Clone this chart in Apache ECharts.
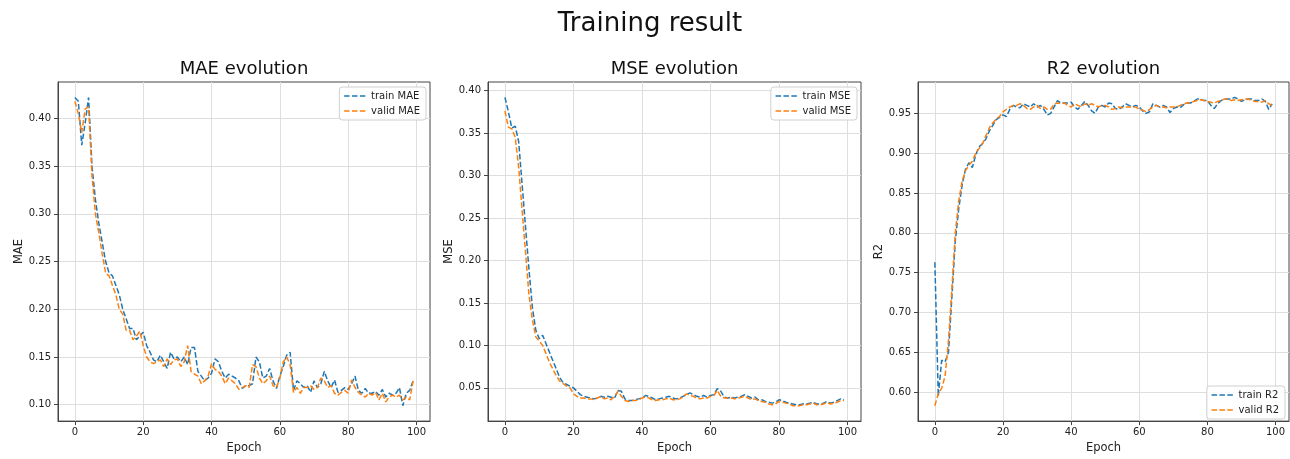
<!DOCTYPE html>
<html>
<head>
<meta charset="utf-8">
<title>Training result</title>
<script src="https://cdn.jsdelivr.net/npm/echarts@6/dist/echarts.min.js"></script>
<style>
  html, body { margin: 0; padding: 0; background: #ffffff; }
  #chart { width: 1290px; height: 459px; }
</style>
</head>
<body>
<div id="chart"></div>
<script>
// Per-epoch metrics (epochs 0..99)
const trainMAE = [
  0.422, 0.418, 0.372, 0.395, 0.422, 0.350, 0.315, 0.290, 0.270, 0.250,
  0.238, 0.235, 0.225, 0.215, 0.200, 0.190, 0.180, 0.180, 0.168, 0.172,
  0.176, 0.162, 0.155, 0.147, 0.145, 0.152, 0.145, 0.138, 0.155, 0.148,
  0.150, 0.145, 0.150, 0.142, 0.160, 0.160, 0.135, 0.130, 0.125, 0.128,
  0.133, 0.148, 0.145, 0.135, 0.128, 0.132, 0.130, 0.128, 0.125, 0.117,
  0.120, 0.120, 0.122, 0.150, 0.145, 0.128, 0.130, 0.138, 0.125, 0.117,
  0.130, 0.140, 0.152, 0.155, 0.115, 0.125, 0.122, 0.118, 0.120, 0.113,
  0.125, 0.118, 0.122, 0.135, 0.125, 0.118, 0.126, 0.113, 0.115, 0.118,
  0.116, 0.122, 0.130, 0.115, 0.112, 0.117, 0.112, 0.112, 0.114, 0.110,
  0.116, 0.108, 0.112, 0.110, 0.112, 0.118, 0.099, 0.112, 0.115, 0.125
];
const validMAE = [
  0.418, 0.405, 0.385, 0.410, 0.412, 0.340, 0.300, 0.280, 0.258, 0.238,
  0.235, 0.225, 0.215, 0.200, 0.195, 0.178, 0.178, 0.168, 0.172, 0.177,
  0.162, 0.150, 0.145, 0.143, 0.145, 0.147, 0.140, 0.148, 0.142, 0.147,
  0.148, 0.140, 0.145, 0.162, 0.135, 0.132, 0.130, 0.122, 0.125, 0.130,
  0.143, 0.137, 0.135, 0.130, 0.122, 0.128, 0.125, 0.122, 0.116, 0.118,
  0.120, 0.118, 0.142, 0.140, 0.128, 0.122, 0.125, 0.130, 0.120, 0.118,
  0.128, 0.145, 0.150, 0.142, 0.113, 0.118, 0.112, 0.118, 0.118, 0.120,
  0.116, 0.118, 0.128, 0.125, 0.118, 0.120, 0.112, 0.110, 0.113, 0.115,
  0.112, 0.126, 0.118, 0.113, 0.110, 0.108, 0.112, 0.110, 0.113, 0.105,
  0.112, 0.103, 0.108, 0.110, 0.108, 0.110, 0.105, 0.108, 0.105, 0.125
];
const trainMSE = [
  0.392, 0.375, 0.356, 0.358, 0.340, 0.290, 0.240, 0.190, 0.145, 0.118,
  0.108, 0.112, 0.102, 0.092, 0.082, 0.072, 0.062, 0.056, 0.054, 0.052,
  0.050, 0.046, 0.042, 0.040, 0.039, 0.038, 0.037, 0.038, 0.040, 0.039,
  0.040, 0.039, 0.038, 0.047, 0.046, 0.037, 0.035, 0.035, 0.036, 0.037,
  0.038, 0.041, 0.040, 0.038, 0.036, 0.037, 0.038, 0.039, 0.040, 0.038,
  0.037, 0.038, 0.040, 0.042, 0.044, 0.042, 0.040, 0.039, 0.041, 0.039,
  0.041, 0.042, 0.049, 0.046, 0.039, 0.038, 0.039, 0.038, 0.039, 0.040,
  0.042, 0.040, 0.038, 0.039, 0.036, 0.036, 0.034, 0.033, 0.032, 0.033,
  0.036, 0.035, 0.033, 0.032, 0.031, 0.030, 0.030, 0.031, 0.031, 0.032,
  0.033, 0.031, 0.031, 0.032, 0.034, 0.032, 0.033, 0.035, 0.037, 0.036
];
const validMSE = [
  0.376, 0.357, 0.355, 0.345, 0.310, 0.260, 0.210, 0.160, 0.130, 0.110,
  0.105, 0.100, 0.090, 0.080, 0.072, 0.064, 0.058, 0.055, 0.052, 0.050,
  0.043, 0.040, 0.038, 0.038, 0.037, 0.037, 0.036, 0.038, 0.040, 0.037,
  0.038, 0.036, 0.040, 0.046, 0.040, 0.035, 0.034, 0.035, 0.035, 0.036,
  0.038, 0.039, 0.038, 0.036, 0.035, 0.036, 0.036, 0.037, 0.038, 0.036,
  0.036, 0.037, 0.039, 0.043, 0.041, 0.040, 0.038, 0.037, 0.038, 0.038,
  0.040, 0.041, 0.047, 0.040, 0.038, 0.038, 0.038, 0.037, 0.038, 0.039,
  0.040, 0.038, 0.036, 0.037, 0.035, 0.034, 0.033, 0.031, 0.030, 0.031,
  0.034, 0.033, 0.032, 0.031, 0.029, 0.029, 0.029, 0.030, 0.030, 0.031,
  0.032, 0.030, 0.030, 0.031, 0.033, 0.031, 0.032, 0.033, 0.035, 0.035
];
const trainR2 = [
  0.763, 0.595, 0.640, 0.638, 0.650, 0.720, 0.790, 0.830, 0.860, 0.880,
  0.888, 0.882, 0.898, 0.908, 0.912, 0.918, 0.928, 0.935, 0.942, 0.945,
  0.948, 0.946, 0.955, 0.960, 0.958, 0.957, 0.962, 0.960, 0.958, 0.962,
  0.958, 0.960, 0.955, 0.948, 0.950, 0.958, 0.966, 0.963, 0.963, 0.963,
  0.964, 0.958, 0.955, 0.960, 0.965, 0.960, 0.953, 0.950, 0.958, 0.960,
  0.958, 0.963, 0.962, 0.956, 0.955, 0.958, 0.962, 0.960, 0.958, 0.960,
  0.958, 0.953, 0.950, 0.952, 0.962, 0.960, 0.958, 0.960, 0.958, 0.951,
  0.956, 0.958, 0.957, 0.961, 0.963, 0.963, 0.965, 0.968, 0.968, 0.966,
  0.966, 0.960, 0.956, 0.962, 0.966, 0.968, 0.968, 0.968, 0.970, 0.968,
  0.965, 0.967, 0.968, 0.968, 0.966, 0.966, 0.968, 0.965, 0.955, 0.962
];
const validR2 = [
  0.583, 0.598, 0.605, 0.620, 0.665, 0.730, 0.800, 0.840, 0.865, 0.878,
  0.885, 0.890, 0.900, 0.906, 0.912, 0.922, 0.932, 0.938, 0.943, 0.946,
  0.952, 0.955, 0.958, 0.960, 0.960, 0.962, 0.960, 0.956, 0.955, 0.958,
  0.960, 0.956, 0.958, 0.955, 0.955, 0.962, 0.963, 0.962, 0.963, 0.960,
  0.958, 0.962, 0.960, 0.958, 0.962, 0.960, 0.962, 0.960, 0.958, 0.960,
  0.960, 0.958, 0.955, 0.956, 0.958, 0.957, 0.958, 0.958, 0.958, 0.958,
  0.955, 0.954, 0.952, 0.955, 0.958, 0.960, 0.958, 0.958, 0.957, 0.958,
  0.958, 0.958, 0.960, 0.962, 0.963, 0.963, 0.965, 0.966, 0.967, 0.966,
  0.965, 0.964, 0.963, 0.965, 0.966, 0.968, 0.968, 0.966, 0.967, 0.966,
  0.967, 0.968, 0.968, 0.966, 0.965, 0.965, 0.964, 0.966, 0.962, 0.960
];

// Tick labels
const epochTicks = [0, 20, 40, 60, 80, 100];
const maeTicks = [0.10, 0.15, 0.20, 0.25, 0.30, 0.35, 0.40];
const mseTicks = [0.05, 0.10, 0.15, 0.20, 0.25, 0.30, 0.35, 0.40];
const r2Ticks = [0.60, 0.65, 0.70, 0.75, 0.80, 0.85, 0.90, 0.95];

const BLUE = '#1f77b4';
const ORANGE = '#ff7f0e';
const FONT = 'DejaVu Sans';
const DASH = [5.5, 2.4];

// Axis range with a 5% margin on each side of the data span
function padded(arrays) {
  let lo = Infinity, hi = -Infinity;
  arrays.forEach(a => a.forEach(v => { lo = Math.min(lo, v); hi = Math.max(hi, v); }));
  const m = (hi - lo) * 0.05;
  return [lo - m, hi + m];
}
const nEpochs = trainMAE.length;
const xRange = [-(nEpochs - 1) * 0.05, (nEpochs - 1) * 1.05];

const panels = [
  { title: 'MAE evolution', yName: 'MAE', ticks: maeTicks, train: trainMAE, valid: validMAE,
    names: ['train MAE', 'valid MAE'], left: 58, width: 372 },
  { title: 'MSE evolution', yName: 'MSE', ticks: mseTicks, train: trainMSE, valid: validMSE,
    names: ['train MSE', 'valid MSE'], left: 488, width: 373 },
  { title: 'R2 evolution', yName: 'R2', ticks: r2Ticks, train: trainR2, valid: validR2,
    names: ['train R2', 'valid R2'], left: 918, width: 371 }
];

const TOP = 82, HEIGHT = 342;
const grids = [], xAxes = [], yAxes = [], series = [], titles = [], legends = [];

titles.push({
  text: 'Training result', left: 650, top: 11, textAlign: 'center', padding: 0,
  textStyle: { fontFamily: FONT, fontSize: 26, fontWeight: 'normal', color: '#111' }
});

panels.forEach((p, i) => {
  grids.push({
    left: p.left, top: TOP, width: p.width, height: HEIGHT,
    show: true, borderColor: '#444', borderWidth: 1, backgroundColor: 'transparent'
  });
  titles.push({
    text: p.title, left: p.left + p.width / 2, top: 60, textAlign: 'center', padding: 0,
    textStyle: { fontFamily: FONT, fontSize: 18, fontWeight: 'normal', color: '#111' }
  });
  xAxes.push({
    type: 'value', gridIndex: i, min: xRange[0], max: xRange[1], splitNumber: 5,
    name: 'Epoch', nameLocation: 'middle', nameGap: 19,
    nameTextStyle: { fontFamily: FONT, fontSize: 11.5, color: '#222' },
    axisLine: { show: true, onZero: false, lineStyle: { color: '#444' } },
    axisTick: { show: true, length: 4, customValues: epochTicks, lineStyle: { color: '#444' } },
    axisLabel: { customValues: epochTicks, margin: 6, fontFamily: FONT, fontSize: 10, color: '#222' },
    splitLine: { show: true, lineStyle: { color: '#dedede', width: 1 } }
  });
  const yr = padded([p.train, p.valid]);
  yAxes.push({
    type: 'value', gridIndex: i, min: yr[0], max: yr[1], splitNumber: 8,
    name: p.yName, nameLocation: 'middle', nameGap: 33,
    nameTextStyle: { fontFamily: FONT, fontSize: 11.5, color: '#222' },
    axisLine: { show: true, onZero: false, lineStyle: { color: '#444' } },
    axisTick: { show: true, length: 4, customValues: p.ticks, lineStyle: { color: '#444' } },
    axisLabel: { customValues: p.ticks, margin: 7, fontFamily: FONT, fontSize: 10, color: '#222',
      formatter: v => v.toFixed(2) },
    splitLine: { show: true, lineStyle: { color: '#dedede', width: 1 } }
  });
  [[p.train, BLUE, p.names[0]], [p.valid, ORANGE, p.names[1]]].forEach(([arr, color, name]) => {
    series.push({
      type: 'line', name, xAxisIndex: i, yAxisIndex: i,
      data: arr.map((v, e) => [e, v]),
      symbol: 'none', color,
      lineStyle: { color, width: 1.5, type: DASH },
      animation: false
    });
  });
  const legend = {
    data: p.names, orient: 'vertical',
    right: 1290 - (p.left + p.width) + 4,
    itemWidth: 22, itemHeight: 10, itemGap: 5,
    padding: [4, 6, 4, 4],
    backgroundColor: 'rgba(255,255,255,0.85)',
    borderColor: '#d0d0d0', borderWidth: 1, borderRadius: 3,
    itemStyle: { opacity: 0, borderWidth: 0 },
    lineStyle: { type: DASH, width: 1.5 },
    textStyle: { fontFamily: FONT, fontSize: 10, color: '#222' },
    selectedMode: false
  };
  if (i === 2) legend.bottom = 459 - (TOP + HEIGHT) + 5;
  else legend.top = TOP + 5;
  legends.push(legend);
});

const chart = echarts.init(document.getElementById('chart'), null, { renderer: 'canvas' });
chart.setOption({
  animation: false,
  backgroundColor: '#ffffff',
  title: titles,
  legend: legends,
  grid: grids,
  xAxis: xAxes,
  yAxis: yAxes,
  series
});
</script>
</body>
</html>
